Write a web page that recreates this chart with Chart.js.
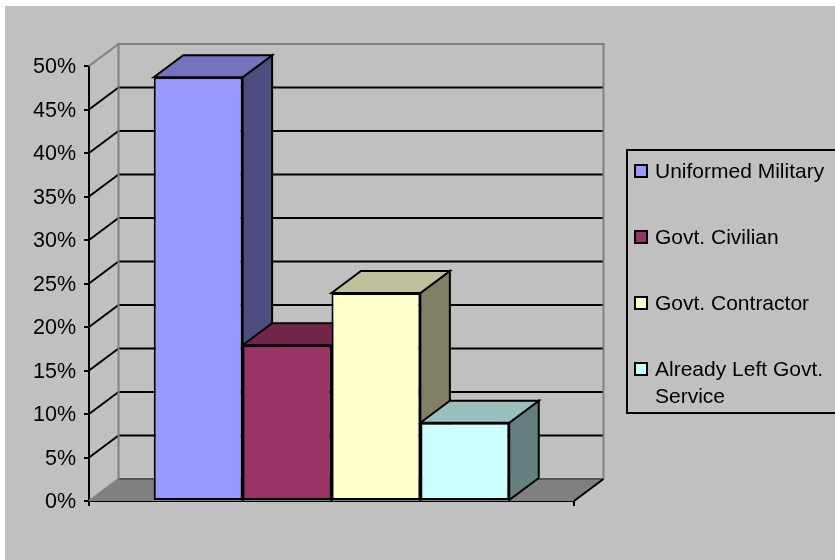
<!DOCTYPE html>
<html><head><meta charset="utf-8">
<style>html,body{margin:0;padding:0;background:#fff}canvas{display:block}</style>
<script src="https://cdn.jsdelivr.net/npm/chart.js@4/dist/chart.umd.min.js"></script>
</head><body>
<div style="width:835px;height:560px"><canvas id="c" width="835" height="560"></canvas></div>
<script>
const categories = [''];
const seriesNames = ['Uniformed Military','Govt. Civilian','Govt. Contractor','Already Left Govt. Service'];
const legendLines = [['Uniformed Military'],['Govt. Civilian'],['Govt. Contractor'],['Already Left Govt.','Service']];
const seriesValues = [48.7,17.9,23.9,9];
const frontColors = ['#9999FF','#993366','#FFFFCC','#CCFFFF'];
const topColors = ['#7373BF','#73264D','#BFBF99','#99BFBF'];
const sideColors = ['#4D4D80','#4D1A33','#808066','#668080'];
const DX = 29.5, DY = -22;
const FONT = 'Liberation Sans, Arial, sans-serif';

function poly(ctx, pts, fill, stroke, lw){
  ctx.beginPath();
  pts.forEach((p,i)=> i?ctx.lineTo(p[0],p[1]):ctx.moveTo(p[0],p[1]));
  ctx.closePath();
  if(fill){ctx.fillStyle=fill;ctx.fill();}
  if(stroke){ctx.strokeStyle=stroke;ctx.lineWidth=lw||2;ctx.lineJoin='miter';ctx.stroke();}
}
function seg(ctx,x1,y1,x2,y2,color,lw){
  ctx.beginPath();ctx.moveTo(x1,y1);ctx.lineTo(x2,y2);ctx.strokeStyle=color;ctx.lineWidth=lw;ctx.stroke();
}
const scene = {
  id:'scene',
  beforeDraw(chart){
    const c=chart.ctx;
    c.save();
    c.fillStyle='#fff';c.fillRect(0,0,835,560);
    c.fillStyle='#C0C0C0';c.fillRect(5,6,830,554);
    c.restore();
  },
  beforeDatasetsDraw(chart){
    const c=chart.ctx, a=chart.chartArea, y=chart.scales.y;
    const L=a.left,R=a.right,B=a.bottom,T=a.top;
    c.save();
    // floor
    poly(c,[[L,B],[L+DX,B+DY],[R+DX,B+DY],[R,B]],'#808080');
    seg(c,L+DX,B+DY,R+DX,B+DY,'#555',2);
    seg(c,L,B,L+DX,B+DY,'#808080',2);
    seg(c,R,B,R+DX,B+DY,'#000',2);
    // grid
    y.ticks.forEach(t=>{
      if(t.value<=0||t.value>=50)return;
      const py=y.getPixelForValue(t.value);
      seg(c,L,py,L+DX,py+DY,'#000',2);
      seg(c,L+DX,py+DY,R+DX,py+DY,'#000',2);
    });
    // walls outline
    seg(c,L+DX,T+DY,L+DX,B+DY,'#808080',2);
    seg(c,L+DX-1,T+DY,R+DX+1,T+DY,'#808080',2);
    seg(c,R+DX,T+DY,R+DX,B+DY,'#808080',2);
    seg(c,L,T,L+DX,T+DY,'#808080',2);
    // bar depth
    chart.data.datasets.forEach((ds,i)=>{
      const el=chart.getDatasetMeta(i).data[0];
      const x0=el.x-el.width/2,x1=el.x+el.width/2,yt=el.y,yb=el.base;
      poly(c,[[x1,yt],[x1+DX,yt+DY],[x1+DX,yb+DY],[x1,yb]],sideColors[i],'#000',2);
      poly(c,[[x0,yt],[x0+DX,yt+DY],[x1+DX,yt+DY],[x1,yt]],topColors[i],'#000',2);
    });
    c.restore();
  },
  afterDraw(chart){
    const c=chart.ctx;
    c.save();
    // legend
    c.fillStyle='#C0C0C0';c.fillRect(627,150,210,263);
    c.strokeStyle='#000';c.lineWidth=2;c.strokeRect(627,150,212,263);
    const rows=[171,237,303,369];
    c.textBaseline='middle';c.textAlign='left';c.font='21px '+FONT;
    legendLines.forEach((lines,i)=>{
      c.fillStyle=frontColors[i];c.fillRect(635,rows[i]-6,12,12);
      c.strokeStyle='#000';c.lineWidth=2;c.strokeRect(635,rows[i]-6,12,12);
      c.fillStyle='#000';
      lines.forEach((s,j)=>c.fillText(s,655,rows[i]+1+j*27));
    });
    c.restore();
  }
};
new Chart(document.getElementById('c'),{
  type:'bar',
  data:{labels:categories,datasets:seriesNames.map((n,i)=>({
    label:n,data:[seriesValues[i]],backgroundColor:frontColors[i],borderColor:'#000',borderWidth:2,borderSkipped:false
  }))},
  plugins:[scene],
  options:{
    responsive:false,animation:false,
    layout:{padding:{left:0,top:66,right:261,bottom:0}},
    datasets:{bar:{categoryPercentage:0.733,barPercentage:1}},
    plugins:{legend:{display:false},tooltip:{enabled:false},title:{display:false}},
    scales:{
      x:{position:'bottom',
        grid:{drawOnChartArea:false,drawTicks:true,tickLength:5,color:'#000',lineWidth:2,offset:true},
        border:{color:'#000',width:2},
        ticks:{display:true,font:{size:1},padding:0},
        afterFit(s){s.height=59;}
      },
      y:{min:0,max:50,
        grid:{drawOnChartArea:false,drawTicks:true,tickLength:5,color:'#000',lineWidth:2},
        border:{color:'#000',width:2},
        ticks:{stepSize:5,color:'#000',padding:8,labelOffset:1.5,font:{family:FONT,size:21.5},callback:v=>v+'%'},
        afterFit(s){s.width=89;}
      }
    }
  }
});
</script>
</body></html>
